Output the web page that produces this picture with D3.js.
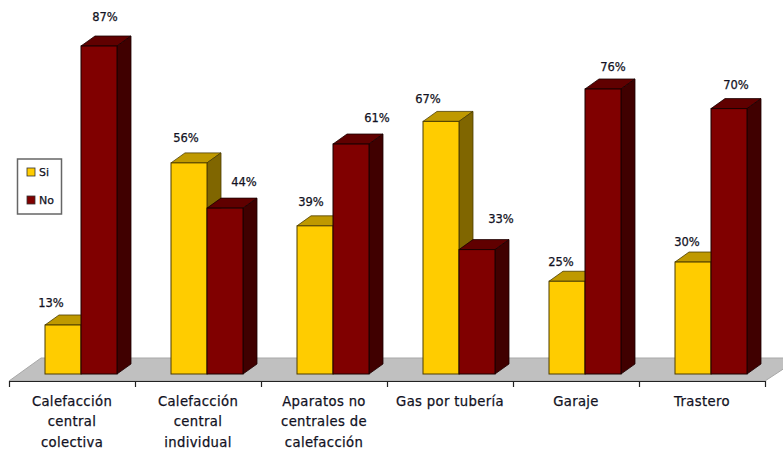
<!DOCTYPE html>
<html>
<head>
<meta charset="utf-8">
<script src="https://cdn.jsdelivr.net/npm/d3@7"></script>
<style>
html, body { margin: 0; padding: 0; background: #fff; }
text { font-family: "DejaVu Sans", sans-serif; fill: #111122; stroke: #111122; stroke-width: 0.25; }
</style>
</head>
<body>
<div id="chart"></div>
<script>
const categories = [
    ["Calefacción", "central", "colectiva"],
    ["Calefacción", "central", "individual"],
    ["Aparatos no", "centrales de", "calefacción"],
    ["Gas por tubería"],
    ["Garaje"],
    ["Trastero"],
]
const seriesNames = ["Si", "No"]
const si = [13, 56, 39.3, 67, 24.6, 29.7]
const no = [87, 44, 61, 33, 75.6, 70.4]

// hand placed labels in the original, offset from the top front corner of the bar
const siNudge = [[6, -22], [15, -25], [14, -24], [5, -22], [12, -19], [12, -20]]
const noNudge = [[24, -29], [37, -26], [44, -26], [42, -31], [28, -22], [25, -24]]

const width = 783
const height = 450
const depth = { x: 14, y: -10 }
const colors = {
    Si: { front: "#ffcc00", top: "#bf9900", side: "#806600", edge: "#4d3d00" },
    No: { front: "#800000", top: "#600000", side: "#400000", edge: "#1a0000" },
}

const svg = d3.select("div#chart").append("svg").attr("width", width).attr("height", height)
    .style("display", "block")

const x = d3.scaleBand().domain(d3.range(categories.length)).range([9, 765])
const inner = d3.scaleBand().domain(seriesNames).range([36, 108])
const y = d3.scaleLinear().domain([0, 100]).range([374, -3])

// floor
const floorY = 381
svg.append("path")
    .attr("d", `M9,${floorY} L41,358 H800 L765,${floorY} Z`)
    .attr("fill", "#c0c0c0")
    .attr("stroke", "#a8a8a8")
    .attr("stroke-width", 1)

// axis, ticks on the category edges
const edges = d3.scaleLinear().domain([0, categories.length]).range([9, 765])
const xAxisGroup = svg.append("g").attr("transform", `translate(0, ${floorY})`)
    .call(d3.axisBottom(edges).ticks(categories.length).tickSize(6).tickSizeOuter(0).tickFormat(""))
xAxisGroup.selectAll("path, line").attr("stroke", "#222").attr("stroke-width", 1.2)

const barGroup = svg.append("g")

seriesNames.forEach((name, s) => {
    const values = s === 0 ? si : no
    const nudge = s === 0 ? siNudge : noNudge
    const c = colors[name]
    const bar = barGroup.selectAll(`g.bar${name}`).data(values).join("g").attr("class", `bar${name}`)
    const left = (d, i) => x(i) + inner(name)
    const right = (d, i) => left(d, i) + inner.bandwidth()

    bar.append("path").attr("fill", c.top).attr("stroke", c.edge).attr("stroke-width", 0.8)
        .attr("d", (d, i) => `M${left(d, i)},${y(d)} l${depth.x},${depth.y} H${right(d, i) + depth.x} L${right(d, i)},${y(d)} Z`)
    bar.append("path").attr("fill", c.side).attr("stroke", c.edge).attr("stroke-width", 0.8)
        .attr("d", (d, i) => `M${right(d, i)},${y(d)} l${depth.x},${depth.y} V${y(0) + depth.y} L${right(d, i)},${y(0)} Z`)
    bar.append("rect").attr("fill", c.front).attr("stroke", c.edge).attr("stroke-width", 1)
        .attr("x", left).attr("y", d => y(d))
        .attr("width", inner.bandwidth()).attr("height", d => y(0) - y(d))

    svg.selectAll(`text.label${name}`).data(values).join("text").attr("class", `label${name}`)
        .attr("x", (d, i) => left(d, i) + nudge[i][0])
        .attr("y", (d, i) => y(d) + nudge[i][1])
        .attr("dy", "0.35em")
        .attr("text-anchor", "middle")
        .attr("font-size", 11.5)
        .text(d => `${Math.round(d)}%`)
})

// category labels
const catLabel = svg.selectAll("text.cat").data(categories).join("text").attr("class", "cat")
    .attr("text-anchor", "middle")
    .attr("font-size", 13.2)
    .attr("letter-spacing", 0.35)
catLabel.selectAll("tspan").data((d, i) => d.map(t => ({ t, i }))).join("tspan")
    .attr("x", d => x(d.i) + x.bandwidth() / 2)
    .attr("y", (d, j) => 406 + j * 20.4)
    .text(d => d.t)

// legend
const legend = svg.append("g")
legend.append("rect").attr("x", 17.5).attr("y", 159).attr("width", 44).attr("height", 55)
    .attr("fill", "#fff").attr("stroke", "#666").attr("stroke-width", 1.5)
const legendRow = d3.scalePoint().domain(seriesNames).range([172, 200])
seriesNames.forEach(name => {
    legend.append("rect").attr("x", 27).attr("y", legendRow(name) - 4).attr("width", 8).attr("height", 8)
        .attr("fill", colors[name].front).attr("stroke", "#333").attr("stroke-width", 0.8)
    legend.append("text").attr("x", 39).attr("y", legendRow(name)).attr("dy", "0.35em")
        .attr("font-size", 11).text(name)
})
</script>
</body>
</html>
